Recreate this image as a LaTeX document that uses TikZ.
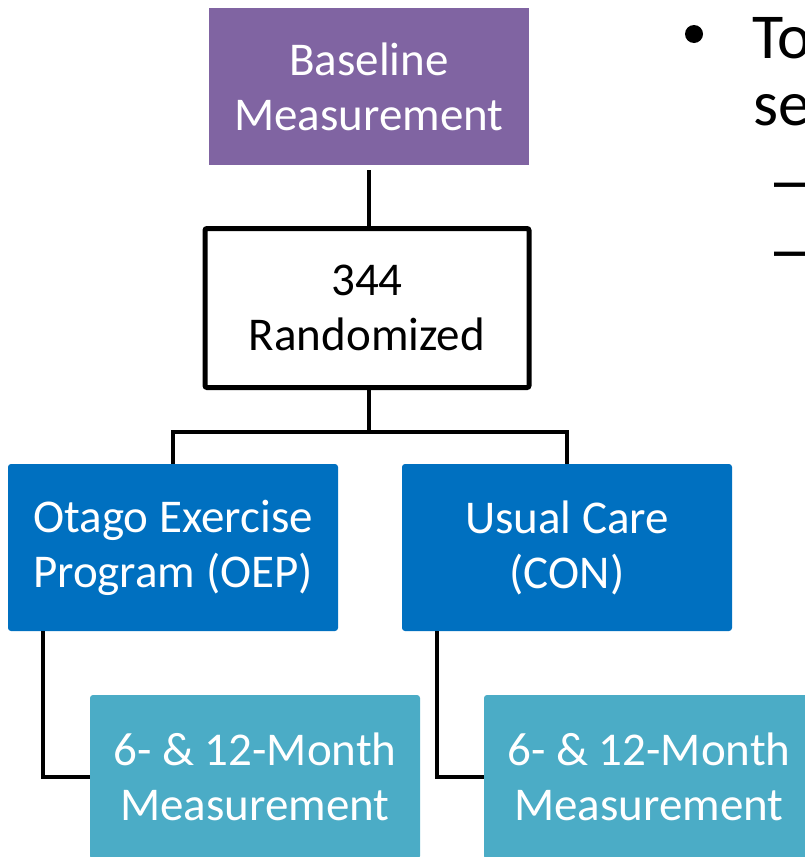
\documentclass[tikz,border=0pt]{standalone}
\usepackage{fontspec}
\setmainfont{Carlito}
\newfontfamily\dashfont{Liberation Sans}
\definecolor{basepurple}{HTML}{8064A2}
\definecolor{armblue}{HTML}{0070C0}
\definecolor{followblue}{HTML}{4BACC6}
\begin{document}
\begin{tikzpicture}[x=1pt,y=-1pt,
  boxtxt/.style={rectangle, inner sep=0pt, align=center, text=white,
    font=\fontsize{47}{55}\selectfont},
  armbox/.style={boxtxt, fill=armblue, rounded corners=3pt,
    minimum width=330pt, minimum height=167pt},
  followbox/.style={boxtxt, fill=followblue, rounded corners=3pt,
    minimum width=330pt, minimum height=164pt},
  conn/.style={draw=black, line width=4.5pt},
  slidetxt/.style={anchor=base west, inner sep=0pt, text=black}]
\useasboundingbox (0,0) rectangle (805,857);
\clip (0,0) rectangle (805,857);

% flow chart boxes
\node[boxtxt, fill=basepurple, minimum width=320pt, minimum height=157pt]
  (base) at (369,86.5) {Baseline\\Measurement};
\node[boxtxt, text=black, draw=black, line width=5pt, rounded corners=2pt,
  minimum width=324pt, minimum height=159pt]
  (rand) at (367,308) {344\\Randomized};
\node[armbox] (oep) at (173,547.5) {Otago Exercise\\Program (OEP)};
\node[armbox] (con) at (567,547.5) {Usual Care\\(CON)};
\node[followbox] (m1) at (255,777) {6- \& 12-Month\\Measurement};
\node[followbox] (m2) at (649,777) {6- \& 12-Month\\Measurement};

% connectors
\coordinate (split) at (369,432);
\draw[conn, shorten <=5pt] (base.south) -- (base.south |- rand.north);
\draw[conn] (rand.south -| split) -- (split);
\draw[conn] (oep.north) |- (split) -| (con.north);
\draw[conn] ([xshift=-130pt]oep.south) |- (m1.west);
\draw[conn] ([xshift=-130pt]con.south) |- (m2.west);

% bullet list at the right
\node[circle, fill=black, inner sep=0pt, minimum size=18pt] (bullet) at (694,34) {};
\node[slidetxt, font=\fontsize{64}{67}\selectfont] (line1) at (752,58) {To};
\node[slidetxt, font=\fontsize{64}{67}\selectfont] (line2) at (753,125) {se};
\node[slidetxt, font=\dashfont\fontsize{64}{64}\selectfont] (dash1) at (774,201) {–};
\node[slidetxt, font=\dashfont\fontsize{64}{64}\selectfont] (dash2) at (774,270) {–};
\end{tikzpicture}
\end{document}
